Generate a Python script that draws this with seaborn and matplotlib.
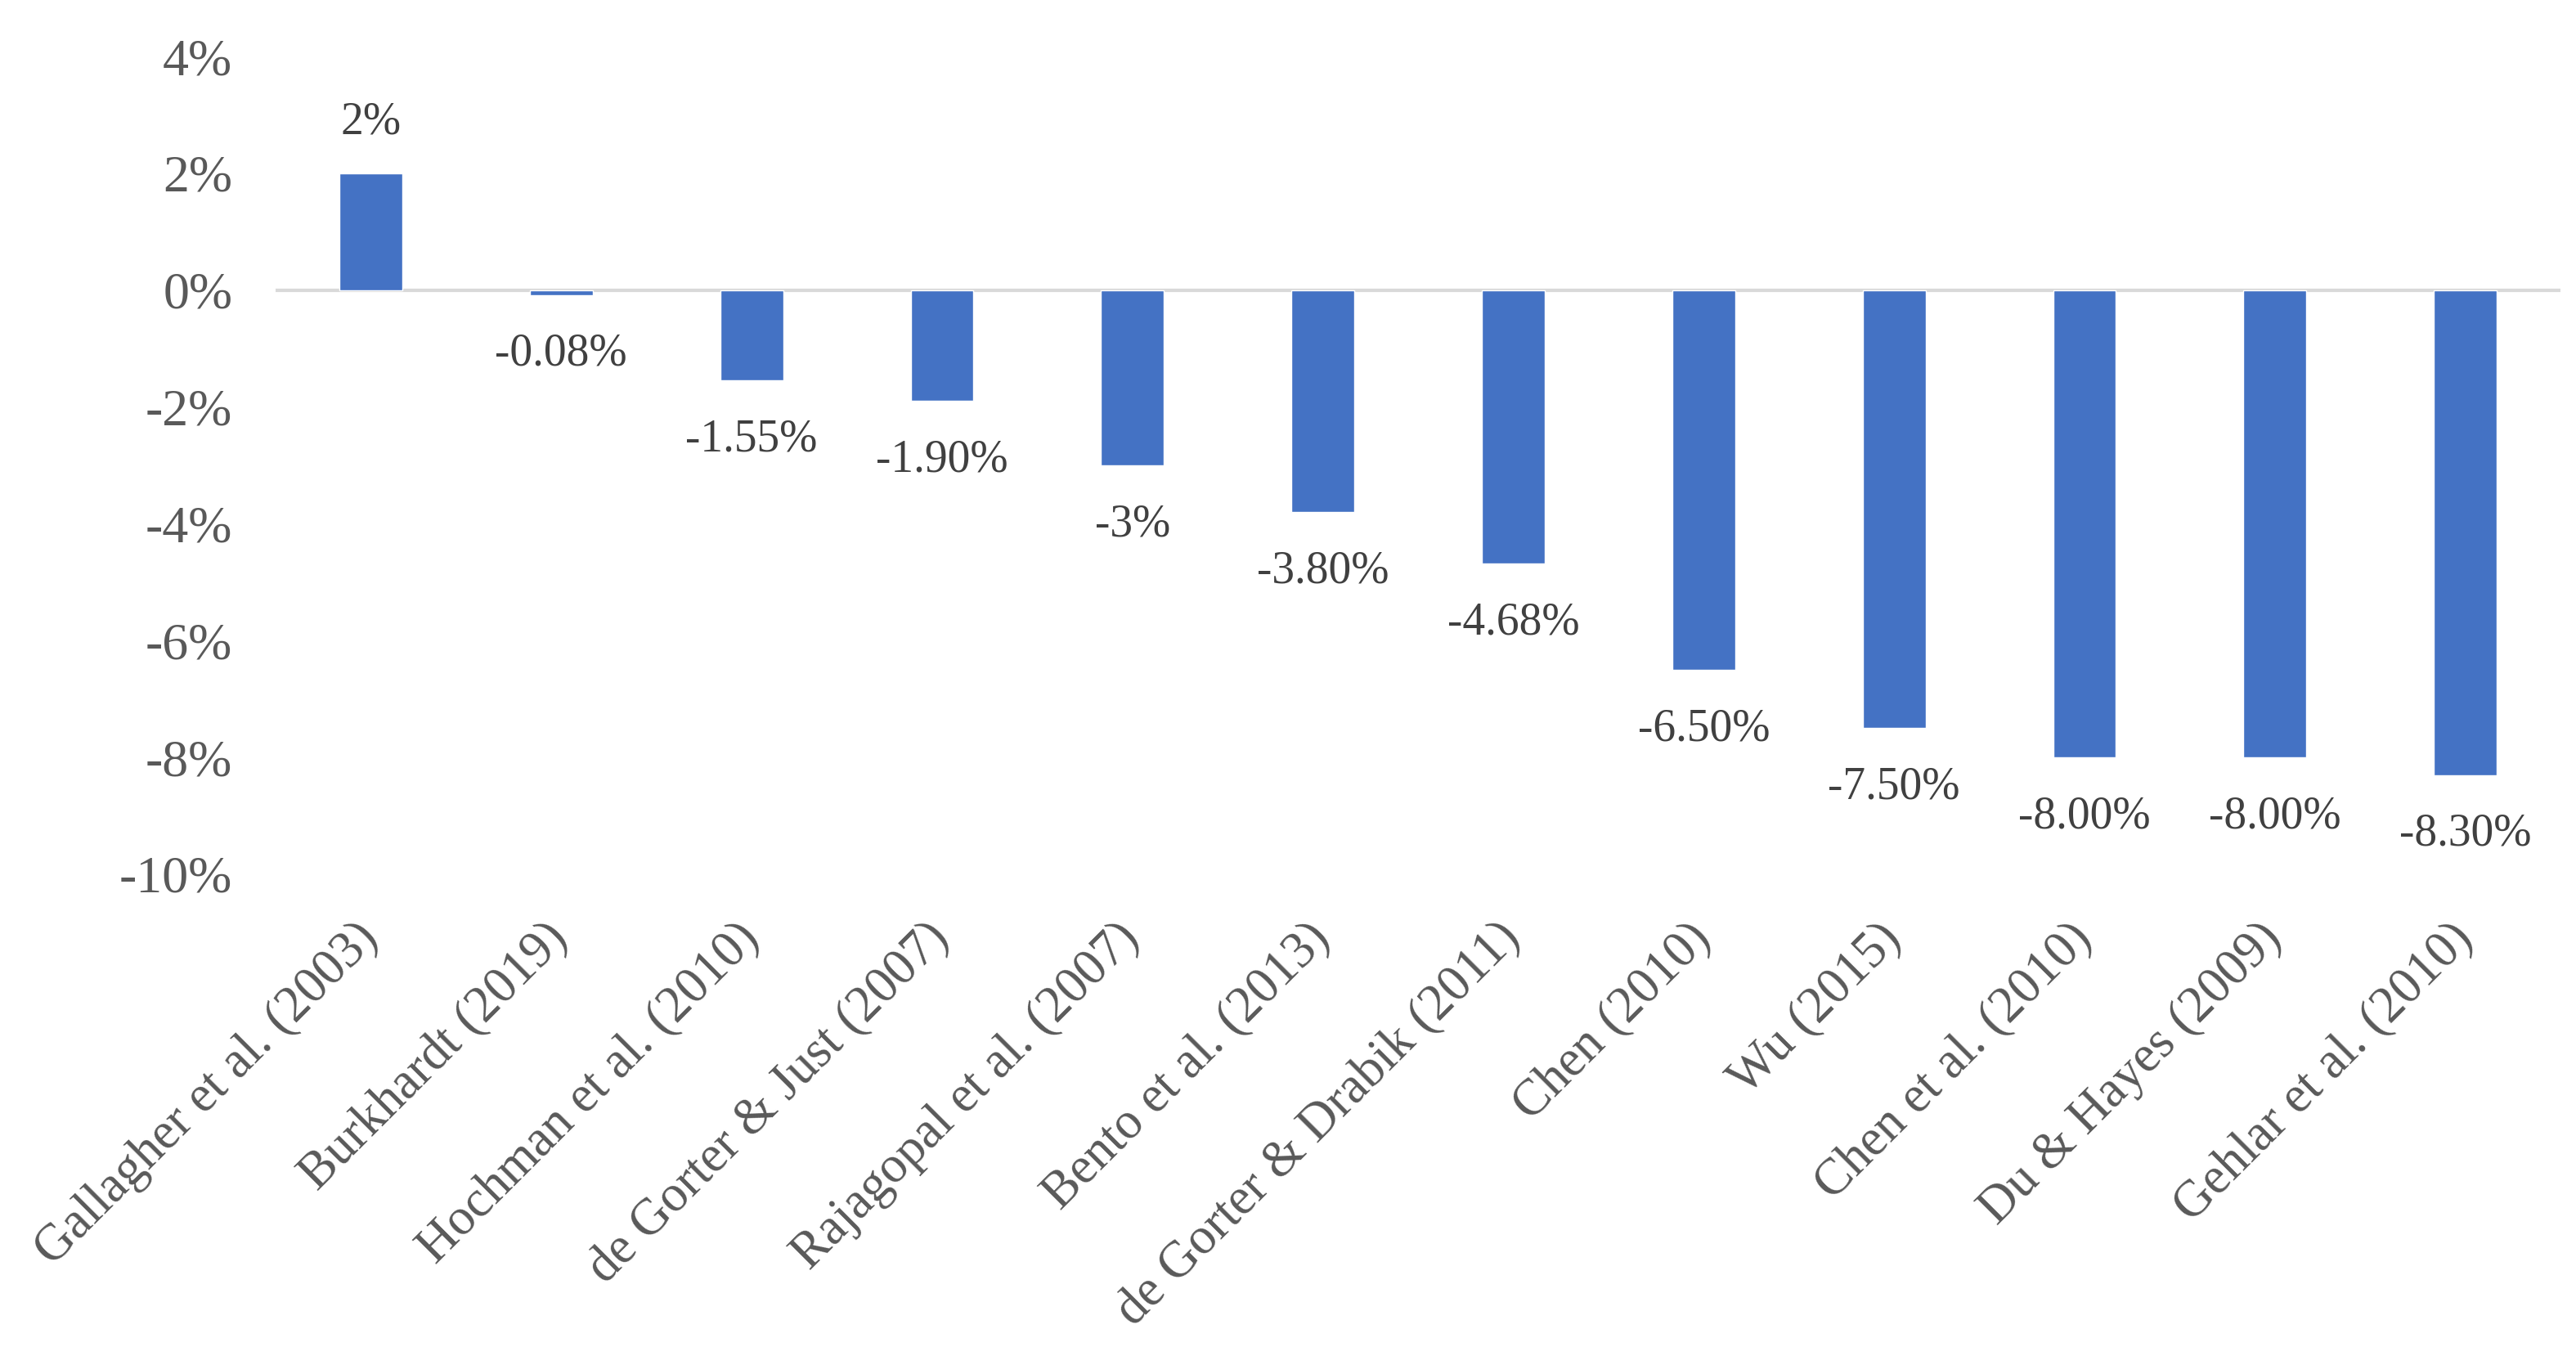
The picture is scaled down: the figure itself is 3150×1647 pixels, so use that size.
import pandas as pd
import matplotlib
matplotlib.use("Agg")
import matplotlib.pyplot as plt
import seaborn as sns

# Data
studies = [
    "Gallagher et al. (2003)", "Burkhardt (2019)", "Hochman et al. (2010)",
    "de Gorter & Just (2007)", "Rajagopal et al. (2007)", "Bento et al. (2013)",
    "de Gorter & Drabik (2011)", "Chen (2010)", "Wu (2015)",
    "Chen et al. (2010)", "Du & Hayes (2009)", "Gehlar et al. (2010)",
]
effects = [2.0, -0.08, -1.55, -1.90, -3.0, -3.80, -4.68, -6.50, -7.50, -8.00, -8.00, -8.30]
value_labels = ["2%", "-0.08%", "-1.55%", "-1.90%", "-3%", "-3.80%", "-4.68%",
                "-6.50%", "-7.50%", "-8.00%", "-8.00%", "-8.30%"]
y_ticks = [4, 2, 0, -2, -4, -6, -8, -10]

df = pd.DataFrame({"study": studies, "effect": effects})

sns.set_style("white")
plt.rcParams["font.family"] = ["Liberation Serif", "DejaVu Serif"]

fig = plt.figure(figsize=(31.5, 16.47), dpi=100)
ax = fig.add_axes([0.107, 0.351, 0.887, 0.607])

sns.barplot(data=df, x="study", y="effect", color="#4472C4", width=0.33,
            saturation=1, ax=ax)

ax.axhline(0, color="#D9D9D9", lw=3, zorder=0)

ax.set_ylim(-10, 4)
ax.set_yticks(y_ticks)
ax.set_yticklabels([f"{t}%" for t in y_ticks])
ax.set_xlim(-0.5, len(studies) - 0.5)

# Data labels
for i, (v, lab) in enumerate(zip(effects, value_labels)):
    off = 45 if v >= 0 else -52
    ax.annotate(lab, (i, v), xytext=(0, off), textcoords="offset points",
                ha="center", va="center", fontsize=40, color="#404040")

ax.tick_params(axis="y", labelsize=46, labelcolor="#595959", length=0, pad=38)
ax.tick_params(axis="x", labelsize=45, labelcolor="#595959", length=0, pad=50)
for t in ax.get_xticklabels():
    t.set_rotation(45)
    t.set_ha("right")
    t.set_va("center")
    t.set_rotation_mode("anchor")

ax.set_xlabel("")
ax.set_ylabel("")
sns.despine(ax=ax, left=True, bottom=True)

fig.savefig("out.png", dpi=100)
